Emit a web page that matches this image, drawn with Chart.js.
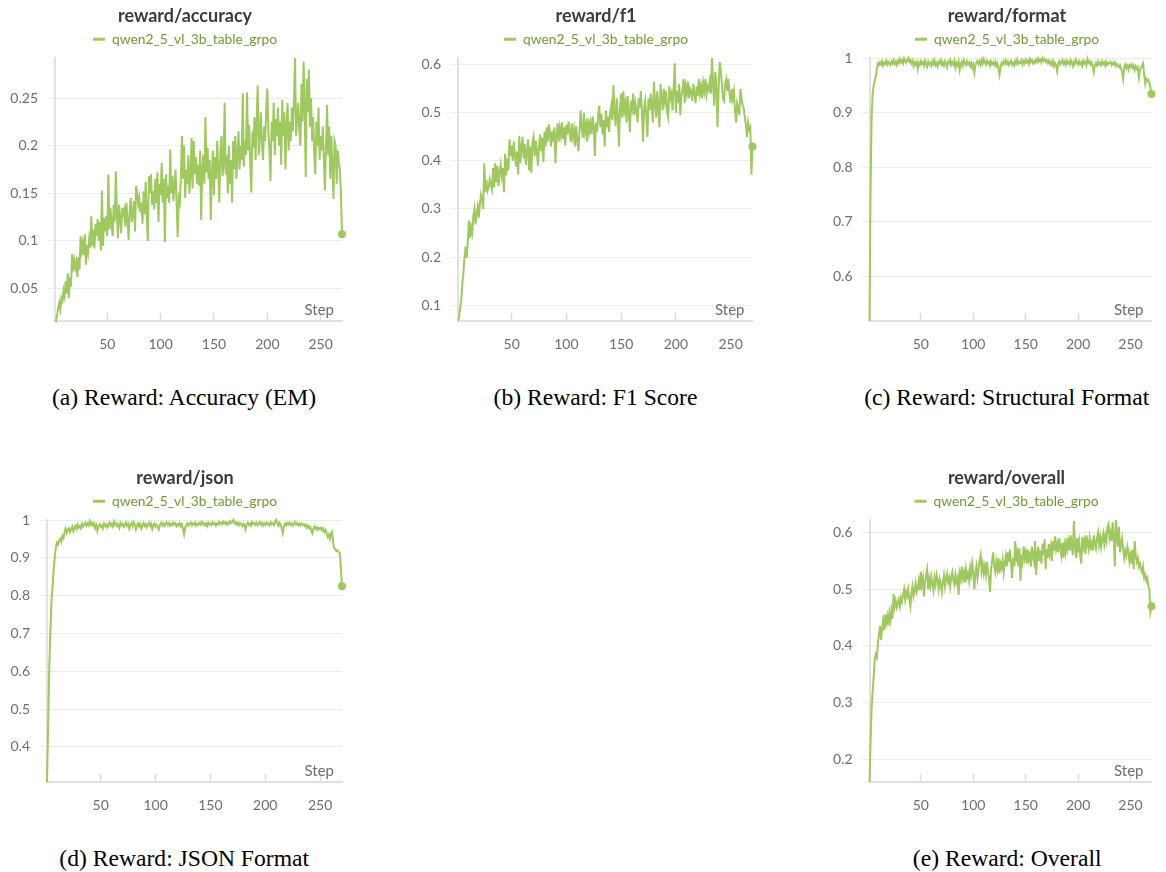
<!DOCTYPE html>
<html>
<head>
<meta charset="utf-8">
<script src="https://cdn.jsdelivr.net/npm/chart.js@4.4.1/dist/chart.umd.min.js"></script>
<style>
html,body{margin:0;padding:0;background:#fff;}
body{width:1166px;height:872px;position:relative;overflow:hidden;}
.panel{position:absolute;}
.cap{position:absolute;font-family:"Liberation Serif","Times New Roman",serif;font-size:23.6px;color:#000;white-space:nowrap;transform:translate(-50%,-50%);line-height:1.1;}
</style>
</head>
<body>
<div class="panel" style="left:0px;top:0px;width:360px;height:360px"><canvas id="ca"></canvas></div>
<div class="panel" style="left:400px;top:0px;width:370px;height:360px"><canvas id="cb"></canvas></div>
<div class="panel" style="left:810px;top:0px;width:356px;height:360px"><canvas id="cc"></canvas></div>
<div class="panel" style="left:0px;top:462px;width:360px;height:360px"><canvas id="cd"></canvas></div>
<div class="panel" style="left:810px;top:462px;width:356px;height:360px"><canvas id="ce"></canvas></div>

<div class="cap" style="left:184px;top:397.5px">(a) Reward: Accuracy (EM)</div>
<div class="cap" style="left:595.5px;top:397.5px">(b) Reward: F1 Score</div>
<div class="cap" style="left:1006.7px;top:397.5px">(c) Reward: Structural Format</div>
<div class="cap" style="left:184.2px;top:858.5px">(d) Reward: JSON Format</div>
<div class="cap" style="left:1007.2px;top:858.5px">(e) Reward: Overall</div>

<script>
// ---------------- data ----------------
const RUN_NAME = 'qwen2_5_vl_3b_table_grpo';
const X_AXIS_LABEL = 'Step';
const STEPS = Array.from({length: 270}, (_, i) => i + 1);
const X_TICKS = [50, 100, 150, 200, 250];

const ACCURACY = [
0.017,0.016,0.022,0.030,0.035,0.028,0.040,0.037,0.048,0.042,
0.058,0.045,0.066,0.040,0.062,0.052,0.086,0.068,0.080,0.072,
0.078,0.062,0.083,0.070,0.105,0.090,0.098,0.085,0.107,0.075,
0.096,0.088,0.102,0.093,0.126,0.095,0.112,0.092,0.118,0.105,
0.123,0.100,0.120,0.090,0.153,0.095,0.124,0.110,0.126,0.105,
0.170,0.112,0.135,0.118,0.105,0.138,0.120,0.173,0.130,0.103,
0.138,0.125,0.108,0.135,0.128,0.133,0.115,0.140,0.122,0.101,
0.130,0.145,0.120,0.128,0.142,0.110,0.158,0.150,0.138,0.145,
0.130,0.140,0.118,0.152,0.128,0.162,0.125,0.100,0.168,0.150,
0.170,0.138,0.152,0.133,0.165,0.140,0.172,0.120,0.160,0.148,
0.182,0.140,0.165,0.099,0.170,0.145,0.158,0.140,0.196,0.150,
0.168,0.142,0.160,0.175,0.138,0.104,0.145,0.140,0.168,0.210,
0.165,0.200,0.145,0.175,0.160,0.190,0.150,0.168,0.208,0.155,
0.205,0.170,0.188,0.160,0.180,0.158,0.195,0.122,0.175,0.190,
0.160,0.230,0.172,0.198,0.165,0.185,0.122,0.170,0.195,0.148,
0.188,0.165,0.205,0.175,0.140,0.195,0.210,0.168,0.180,0.245,
0.170,0.190,0.150,0.200,0.160,0.185,0.140,0.205,0.175,0.210,
0.165,0.190,0.215,0.175,0.200,0.185,0.255,0.178,0.205,0.190,
0.256,0.195,0.222,0.180,0.151,0.215,0.198,0.230,0.185,0.225,
0.263,0.190,0.210,0.235,0.200,0.185,0.220,0.205,0.240,0.260,
0.215,0.195,0.163,0.225,0.205,0.245,0.190,0.228,0.210,0.240,
0.200,0.225,0.180,0.248,0.210,0.235,0.175,0.220,0.245,0.195,
0.225,0.205,0.240,0.215,0.250,0.292,0.210,0.230,0.245,0.215,
0.200,0.265,0.225,0.288,0.240,0.167,0.270,0.235,0.280,0.220,
0.250,0.205,0.230,0.190,0.170,0.225,0.200,0.240,0.185,0.210,
0.195,0.220,0.185,0.153,0.200,0.243,0.190,0.220,0.165,0.210,
0.180,0.144,0.205,0.200,0.160,0.195,0.183,0.175,0.150,0.107
];

const F1 = [
0.067,0.075,0.095,0.110,0.145,0.170,0.200,0.222,0.198,0.235,
0.276,0.240,0.262,0.250,0.285,0.300,0.268,0.290,0.305,0.282,
0.310,0.330,0.318,0.300,0.395,0.335,0.360,0.338,0.345,0.362,
0.350,0.340,0.385,0.345,0.395,0.355,0.390,0.348,0.375,0.392,
0.368,0.385,0.335,0.415,0.370,0.405,0.380,0.445,0.410,0.432,
0.400,0.440,0.412,0.388,0.420,0.372,0.452,0.395,0.428,0.450,
0.405,0.435,0.392,0.418,0.445,0.380,0.430,0.375,0.438,0.450,
0.410,0.442,0.422,0.390,0.430,0.455,0.420,0.448,0.398,0.460,
0.430,0.470,0.440,0.476,0.455,0.430,0.462,0.440,0.470,0.395,
0.455,0.478,0.440,0.468,0.452,0.480,0.445,0.470,0.432,0.475,
0.455,0.482,0.460,0.440,0.478,0.450,0.465,0.430,0.472,0.445,
0.420,0.460,0.505,0.470,0.448,0.500,0.460,0.475,0.440,0.488,
0.462,0.478,0.455,0.492,0.470,0.410,0.480,0.460,0.495,0.515,
0.470,0.498,0.455,0.485,0.430,0.505,0.470,0.492,0.460,0.500,
0.515,0.485,0.558,0.500,0.472,0.530,0.495,0.430,0.510,0.540,
0.490,0.545,0.505,0.520,0.480,0.535,0.500,0.460,0.525,0.510,
0.540,0.495,0.520,0.505,0.480,0.530,0.510,0.545,0.500,0.440,
0.510,0.525,0.495,0.450,0.530,0.505,0.540,0.515,0.480,0.565,
0.520,0.490,0.545,0.510,0.470,0.560,0.530,0.505,0.550,0.525,
0.545,0.500,0.490,0.555,0.530,0.540,0.505,0.550,0.603,0.500,
0.545,0.520,0.560,0.495,0.535,0.548,0.570,0.520,0.555,0.540,
0.565,0.530,0.550,0.545,0.525,0.560,0.540,0.520,0.555,0.535,
0.570,0.540,0.555,0.530,0.562,0.545,0.570,0.538,0.555,0.548,
0.565,0.540,0.614,0.560,0.515,0.585,0.560,0.470,0.545,0.606,
0.590,0.560,0.530,0.525,0.560,0.570,0.545,0.570,0.540,0.520,
0.550,0.530,0.545,0.505,0.480,0.520,0.510,0.495,0.550,0.530,
0.515,0.510,0.490,0.475,0.450,0.480,0.465,0.470,0.372,0.430
];

const FORMAT = [
0.518,0.760,0.890,0.935,0.950,0.958,0.966,0.980,0.990,0.987,
0.992,0.988,0.994,0.986,0.991,0.989,0.995,0.988,0.993,0.990,
0.987,0.994,0.990,0.996,0.989,0.993,0.987,0.995,0.991,0.998,
0.992,0.996,0.990,0.999,0.994,0.991,0.997,1.000,0.993,0.996,
0.990,0.995,0.985,0.992,0.988,0.993,0.980,0.991,0.987,0.994,
0.989,0.992,0.986,0.995,0.990,0.984,0.993,0.988,0.991,0.986,
0.994,0.989,0.996,0.987,0.991,0.985,0.993,0.990,0.996,0.988,
0.992,0.986,0.994,0.989,0.983,0.993,0.990,0.996,0.987,0.992,
0.988,0.995,0.982,0.991,0.987,0.994,0.978,0.989,0.993,0.986,
0.996,0.990,0.987,0.994,0.989,0.992,0.985,0.991,0.982,0.988,
0.973,0.986,0.992,0.995,0.989,0.993,0.987,0.996,0.990,0.998,
0.992,0.988,0.995,0.990,0.993,0.986,0.994,0.989,0.992,0.987,
0.993,0.985,0.990,0.982,0.970,0.984,0.991,0.988,0.994,0.990,
0.996,0.989,0.993,0.987,0.992,0.995,0.988,0.991,0.986,0.994,
0.990,0.997,0.989,0.993,0.991,0.996,0.988,0.994,0.990,0.997,
0.992,0.995,0.989,0.998,0.993,0.996,0.990,0.994,0.991,0.997,
0.993,0.999,0.994,0.997,0.992,1.000,0.995,0.998,0.993,0.996,
0.991,0.995,0.989,0.993,0.987,0.994,0.985,0.991,0.988,0.976,
0.990,0.994,0.988,0.992,0.996,0.989,0.993,0.987,0.995,0.990,
0.993,0.988,0.996,0.991,0.985,0.993,0.989,0.997,0.992,0.988,
0.994,0.989,0.992,0.986,0.995,0.990,0.993,0.987,0.998,0.991,
0.994,0.988,0.992,0.985,0.974,0.987,0.991,0.986,0.993,0.988,
0.991,0.987,0.994,0.989,0.992,0.986,0.993,0.988,0.991,0.990,
0.993,0.987,0.991,0.988,0.992,0.985,0.989,0.986,0.983,0.987,
0.980,0.975,0.962,0.983,0.988,0.981,0.986,0.979,0.987,0.984,
0.988,0.982,0.986,0.978,0.985,0.980,0.983,0.965,0.978,0.982,
0.986,0.990,0.970,0.953,0.962,0.958,0.960,0.955,0.945,0.934
];

const JSON_FMT = [
0.307,0.450,0.600,0.700,0.780,0.825,0.865,0.900,0.925,0.940,
0.935,0.945,0.950,0.942,0.958,0.952,0.968,0.978,0.966,0.974,
0.978,0.968,0.975,0.982,0.970,0.979,0.985,0.976,0.988,0.980,
0.984,0.978,0.990,0.983,0.987,0.993,0.985,0.991,0.986,0.997,
0.988,0.993,0.985,0.990,0.978,0.986,0.971,0.984,0.989,0.982,
0.986,0.978,0.990,0.984,0.988,0.981,0.987,0.993,0.985,0.990,
0.983,0.996,0.987,0.991,0.984,0.988,0.979,0.992,0.986,0.990,
0.982,0.988,0.993,0.985,0.990,0.977,0.987,0.992,0.984,0.995,
0.988,0.975,0.986,0.991,0.983,0.989,0.978,0.986,0.992,0.984,
0.989,0.981,0.987,0.993,0.984,0.990,0.976,0.986,0.991,0.983,
0.987,0.980,0.975,0.988,0.993,0.986,0.991,0.984,0.989,0.994,
0.987,0.992,0.985,0.990,0.986,0.993,0.988,0.991,0.984,0.989,
0.986,0.992,0.983,0.988,0.975,0.962,0.980,0.987,0.991,0.985,
0.990,0.994,0.986,0.991,0.988,0.993,0.985,0.990,0.987,0.992,
0.988,0.995,0.989,0.992,0.986,0.990,0.984,0.993,0.988,0.991,
0.987,0.994,0.989,0.992,0.985,0.991,0.988,0.995,0.990,0.993,
0.989,0.996,0.991,0.994,0.988,0.993,0.990,0.997,0.992,0.995,
1.000,0.991,0.994,0.988,0.993,0.986,0.992,0.989,0.984,0.990,
0.986,0.975,0.988,0.993,0.987,0.991,0.985,0.994,0.989,0.992,
0.987,0.993,0.986,0.990,0.995,0.988,0.992,0.985,0.991,0.987,
0.993,0.988,0.991,0.986,0.994,0.989,0.992,0.987,0.996,1.000,
0.990,0.985,0.993,0.988,0.978,0.965,0.983,0.990,0.986,0.992,
0.988,0.993,0.987,0.991,0.985,0.990,0.995,0.988,0.992,0.986,
0.990,0.985,0.991,0.987,0.989,0.984,0.988,0.980,0.985,0.978,
0.982,0.972,0.965,0.978,0.983,0.976,0.981,0.974,0.979,0.976,
0.980,0.972,0.977,0.968,0.974,0.965,0.955,0.962,0.950,0.965,
0.969,0.938,0.925,0.922,0.918,0.920,0.915,0.912,0.870,0.825
];

const OVERALL = [
0.160,0.230,0.290,0.320,0.345,0.375,0.385,0.380,0.405,0.420,
0.435,0.410,0.430,0.445,0.428,0.455,0.440,0.452,0.436,0.458,
0.445,0.462,0.448,0.492,0.470,0.480,0.468,0.475,0.482,0.470,
0.485,0.478,0.490,0.500,0.482,0.495,0.488,0.500,0.484,0.470,
0.492,0.505,0.488,0.498,0.510,0.495,0.502,0.515,0.498,0.531,
0.508,0.520,0.487,0.512,0.525,0.535,0.500,0.518,0.505,0.522,
0.510,0.498,0.520,0.508,0.525,0.515,0.500,0.518,0.510,0.495,
0.512,0.525,0.505,0.518,0.527,0.512,0.520,0.505,0.522,0.530,
0.515,0.508,0.525,0.512,0.520,0.490,0.528,0.518,0.540,0.520,
0.530,0.512,0.535,0.520,0.528,0.515,0.538,0.525,0.545,0.530,
0.500,0.528,0.540,0.520,0.535,0.550,0.560,0.532,0.545,0.528,
0.540,0.525,0.548,0.530,0.520,0.495,0.535,0.550,0.565,0.540,
0.530,0.548,0.535,0.555,0.528,0.545,0.538,0.552,0.530,0.545,
0.558,0.540,0.565,0.548,0.570,0.545,0.520,0.555,0.540,0.585,
0.555,0.565,0.540,0.572,0.515,0.560,0.548,0.575,0.555,0.565,
0.545,0.570,0.552,0.560,0.540,0.575,0.558,0.548,0.585,0.525,
0.560,0.575,0.550,0.568,0.545,0.580,0.560,0.588,0.535,0.570,
0.555,0.580,0.562,0.575,0.550,0.585,0.568,0.593,0.570,0.580,
0.565,0.590,0.575,0.560,0.582,0.555,0.578,0.565,0.590,0.572,
0.585,0.568,0.595,0.575,0.560,0.620,0.578,0.555,0.590,0.572,
0.585,0.560,0.545,0.592,0.575,0.585,0.562,0.595,0.580,0.570,
0.590,0.575,0.582,0.568,0.595,0.580,0.572,0.590,0.600,0.578,
0.592,0.575,0.588,0.598,0.580,0.595,0.585,0.610,0.615,0.590,
0.600,0.585,0.618,0.590,0.540,0.622,0.600,0.575,0.610,0.565,
0.580,0.590,0.570,0.555,0.568,0.560,0.575,0.565,0.548,0.560,
0.545,0.570,0.535,0.585,0.560,0.548,0.555,0.540,0.545,0.535,
0.530,0.540,0.520,0.525,0.515,0.520,0.505,0.500,0.460,0.470
];

const ACC_TICKS = [0.05, 0.1, 0.15, 0.2, 0.25];
const ACC_TICK_LABELS = ['0.05', '0.1', '0.15', '0.2', '0.25'];
const F1_TICKS = [0.1, 0.2, 0.3, 0.4, 0.5, 0.6];
const F1_TICK_LABELS = ['0.1', '0.2', '0.3', '0.4', '0.5', '0.6'];
const FORMAT_TICKS = [0.6, 0.7, 0.8, 0.9, 1];
const FORMAT_TICK_LABELS = ['0.6', '0.7', '0.8', '0.9', '1'];
const JSON_TICKS = [0.4, 0.5, 0.6, 0.7, 0.8, 0.9, 1];
const JSON_TICK_LABELS = ['0.4', '0.5', '0.6', '0.7', '0.8', '0.9', '1'];
const OVERALL_TICKS = [0.2, 0.3, 0.4, 0.5, 0.6];
const OVERALL_TICK_LABELS = ['0.2', '0.3', '0.4', '0.5', '0.6'];

// ---------------- style ----------------
const FONT = 'Lato';
const LINE_COLOR = '#a0c860';
const LEGEND_TEXT = '#6f9a37';
const TITLE_COLOR = '#3b3b3b';
const TICK_COLOR = '#6c6d78';
const GRID_COLOR = '#ececec';
const AXIS_COLOR = '#e1e1e1';

const legendSpacer = {
  id: 'legendSpacer',
  beforeUpdate(chart) {
    if (chart.legend && !chart.legend._spaced) {
      const fit = chart.legend.fit;
      chart.legend.fit = function () { fit.call(this); this.height += 1.8; };
      chart.legend._spaced = true;
    }
  },
  beforeDraw(chart) {
    // let the y tick labels extend past the (narrow) y scale box
    const y = chart.scales.y;
    if (y && !y._noLabelClip) {
      y._computeLabelArea = () => undefined;
      y._noLabelClip = true;
    }
  }
};

const stepLabel = {
  id: 'stepLabel',
  afterDraw(chart) {
    const {ctx, chartArea} = chart;
    ctx.save();
    ctx.font = '15px ' + FONT;
    ctx.fillStyle = TICK_COLOR;
    ctx.textAlign = 'right';
    ctx.textBaseline = 'middle';
    ctx.fillText(X_AXIS_LABEL, chartArea.right - 8, chartArea.bottom - 11);
    ctx.restore();
  }
};

function makeChart(id, title, values, yTicks, yTickLabels, lay) {
  const last = values.length - 1;
  const ymin = Math.min(...values);
  const ymax = Math.max(...values);
  return new Chart(document.getElementById(id), {
    type: 'line',
    data: {
      labels: STEPS,
      datasets: [{
        label: RUN_NAME,
        data: values,
        borderColor: LINE_COLOR,
        backgroundColor: LINE_COLOR,
        pointBackgroundColor: LINE_COLOR,
        borderWidth: 2,
        pointBorderWidth: 0,
        pointRadius: c => (c.dataIndex === last ? 4 : 0),
        pointHoverRadius: 0,
        tension: 0,
        clip: false
      }]
    },
    options: {
      responsive: true,
      maintainAspectRatio: false,
      animation: false,
      devicePixelRatio: 1,
      events: [],
      layout: {padding: {left: lay.pl, right: lay.pr, top: 5.2, bottom: 0}},
      plugins: {
        title: {
          display: true, text: title, color: TITLE_COLOR,
          font: {family: FONT, size: 18, weight: 'bold', lineHeight: 1.2},
          padding: {top: 0, bottom: 0}
        },
        legend: {
          display: true,
          labels: {
            usePointStyle: true, pointStyle: 'line', pointStyleWidth: 12,
            color: LEGEND_TEXT, font: {family: FONT, size: 13.8}, padding: 5.6,
            generateLabels: (chart) => Chart.defaults.plugins.legend.labels.generateLabels(chart)
              .map(it => Object.assign(it, {lineWidth: 3, strokeStyle: LINE_COLOR, fillStyle: LINE_COLOR, pointStyle: 'line'}))
          }
        },
        tooltip: {enabled: false}
      },
      scales: {
        x: {
          type: 'linear', min: 1, max: 270,
          afterBuildTicks: s => { s.ticks = X_TICKS.map(v => ({value: v})); },
          afterFit: s => { s.height = lay.xh; },
          grid: {drawOnChartArea: false, drawTicks: true, tickLength: -8, tickColor: '#dcdcdc', tickWidth: 1.5},
          border: {color: AXIS_COLOR, width: 2},
          ticks: {color: TICK_COLOR, font: {family: FONT, size: 14}, padding: 23, maxRotation: 0, autoSkip: false,
                  callback: v => String(v)}
        },
        y: {
          type: 'linear', min: ymin, max: ymax,
          afterBuildTicks: s => { s.ticks = yTicks.map(v => ({value: v})); },
          afterFit: s => { s.width = lay.yw; },
          grid: {color: GRID_COLOR, lineWidth: 1, drawTicks: true, tickLength: 7, tickColor: GRID_COLOR},
          border: {color: AXIS_COLOR, width: 2},
          ticks: {color: TICK_COLOR, font: {family: FONT, size: 14}, padding: 10, autoSkip: false,
                  callback: (v, i) => yTickLabels[i]}
        }
      }
    },
    plugins: [legendSpacer, stepLabel]
  });
}

makeChart('ca', 'reward/accuracy', ACCURACY, ACC_TICKS, ACC_TICK_LABELS, {pl: 28, pr: 18, yw: 27, xh: 39});
makeChart('cb', 'reward/f1', F1, F1_TICKS, F1_TICK_LABELS, {pl: 39.5, pr: 17.5, yw: 18.5, xh: 39});
makeChart('cc', 'reward/format', FORMAT, FORMAT_TICKS, FORMAT_TICK_LABELS, {pl: 41, pr: 3, yw: 18.5, xh: 39});
makeChart('cd', 'reward/json', JSON_FMT, JSON_TICKS, JSON_TICK_LABELS, {pl: 28, pr: 18, yw: 19, xh: 40});
makeChart('ce', 'reward/overall', OVERALL, OVERALL_TICKS, OVERALL_TICK_LABELS, {pl: 40, pr: 3, yw: 19.5, xh: 40});
</script>
</body>
</html>
